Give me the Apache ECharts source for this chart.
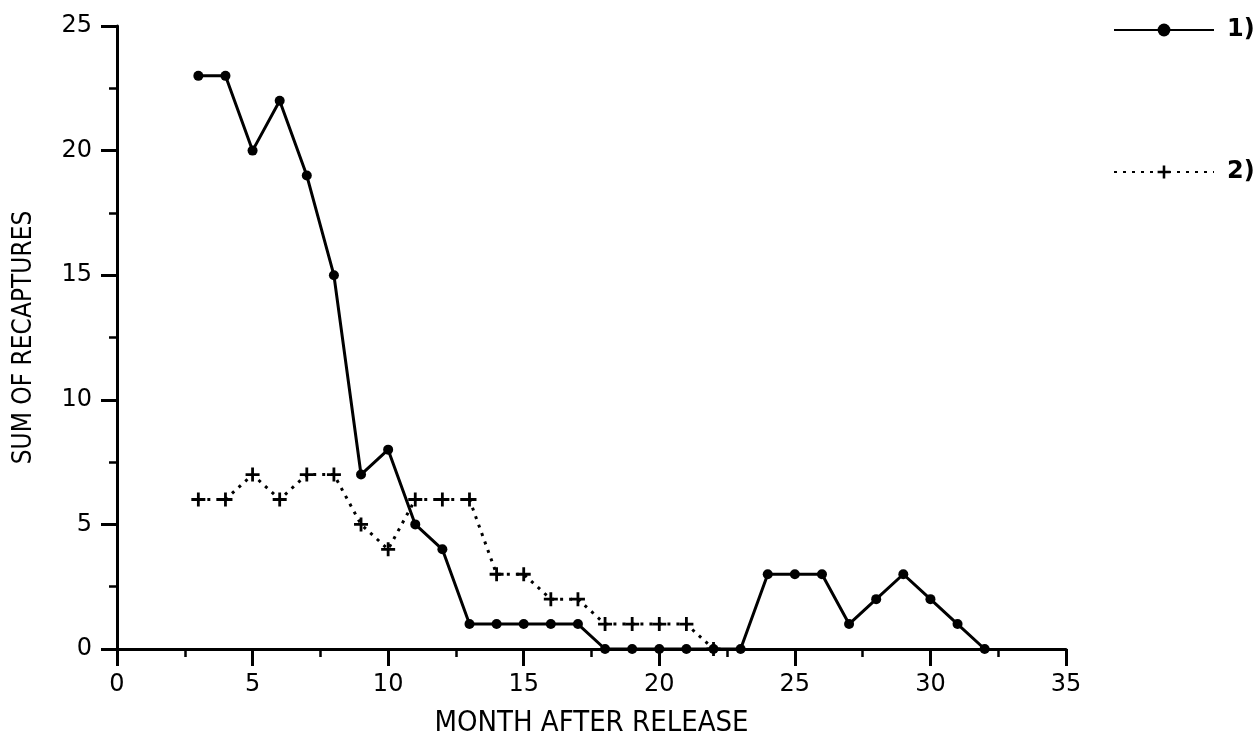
<!DOCTYPE html>
<html>
<head>
<meta charset="utf-8">
<script src="https://cdn.jsdelivr.net/npm/echarts@6/dist/echarts.min.js"></script>
<style>html,body{margin:0;padding:0;background:#fff;}#c{width:1254px;height:743px;}</style>
</head>
<body>
<div id="c"></div>
<script>
const months1 = [3,4,5,6,7,8,9,10,11,12,13,14,15,16,17,18,19,20,21,22,23,24,25,26,27,28,29,30,31,32];
const values1 = [23,23,20,22,19,15,7,8,5,4,1,1,1,1,1,0,0,0,0,0,0,3,3,3,1,2,3,2,1,0];
const months2 = [3,4,5,6,7,8,9,10,11,12,13,14,15,16,17,18,19,20,21,22];
const values2 = [6,6,7,6,7,7,5,4,6,6,6,3,3,2,2,1,1,1,1,0];
const seriesNames = ['1)', '2)'];
const xTitle = 'MONTH AFTER RELEASE';
const yTitle = 'SUM OF RECAPTURES';

const pairs = (xs, ys) => xs.map((x, i) => [x, ys[i]]);
const plus = 'path://M4,0H6V4H10V6H6V10H4V6H0V4H4Z';
const font = 'DejaVu Sans Condensed';
const numFont = 'DejaVu Sans';

const chart = echarts.init(document.getElementById('c'));
chart.setOption({
  animation: false,
  backgroundColor: '#fff',
  grid: { left: 117, right: 188, top: 26, bottom: 92, containLabel: false },
  legend: {
    orient: 'vertical', left: 1108, top: 13, itemWidth: 100, itemHeight: 16, itemGap: 118,
    textStyle: { fontFamily: numFont, fontSize: 24, fontWeight: 'bold', color: '#000', padding: [0,0,0,8] },
    data: seriesNames
  },
  xAxis: {
    type: 'value', min: 0, max: 35, interval: 5,
    name: xTitle, nameLocation: 'middle', nameGap: 60,
    nameTextStyle: { fontFamily: font, fontSize: 29, color: '#000' },
    axisLine: { onZero: false, lineStyle: { color: '#000', width: 3 } },
    axisTick: { length: 17, lineStyle: { color: '#000', width: 3 } },
    minorTick: { show: true, splitNumber: 2, length: 8, lineStyle: { color: '#000', width: 2.5 } },
    axisLabel: { margin: 24, fontFamily: numFont, fontSize: 24, color: '#000' },
    splitLine: { show: false }
  },
  yAxis: {
    type: 'value', min: 0, max: 25, interval: 5,
    name: yTitle, nameLocation: 'middle', nameGap: 80, nameRotate: 90,
    nameTextStyle: { fontFamily: font, fontSize: 26, color: '#000' },
    axisLine: { show: true, lineStyle: { color: '#000', width: 3 } },
    axisTick: { show: true, length: 16, lineStyle: { color: '#000', width: 3 } },
    minorTick: { show: true, splitNumber: 2, length: 8, lineStyle: { color: '#000', width: 2.5 } },
    axisLabel: { margin: 25, fontFamily: numFont, fontSize: 24, color: '#000' },
    splitLine: { show: false }
  },
  series: [
    {
      name: seriesNames[0], type: 'line', data: pairs(months1, values1),
      symbol: 'circle', symbolSize: 10, showAllSymbol: true,
      lineStyle: { color: '#000', width: 3, type: 'solid' },
      itemStyle: { color: '#000' }
    },
    {
      name: seriesNames[1], type: 'line', data: pairs(months2, values2),
      symbol: plus, symbolSize: 14, showAllSymbol: true,
      lineStyle: { color: '#000', width: 3, type: [3, 6] },
      itemStyle: { color: '#000' }
    }
  ]
});
</script>
</body>
</html>
